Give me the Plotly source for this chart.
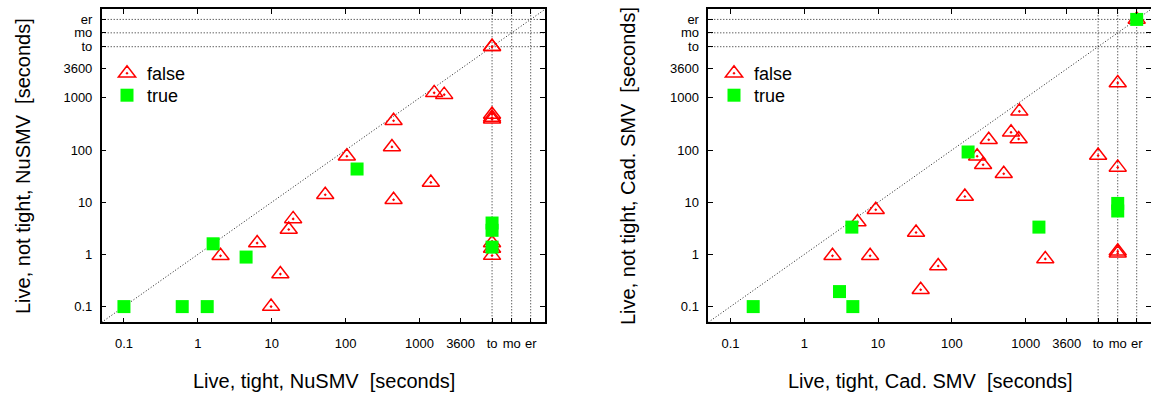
import plotly.graph_objects as go

W, H = 1151, 396

# special tick positions (timeout / memout / error)
TO, MO, ER = 9600, 17700, 32000
tick_vals = [0.1, 1, 10, 100, 1000, 3600, TO, MO, ER]
tick_text = ["0.1", "1", "10", "100", "1000", "3600", "to", "mo", "er"]
special_vals = [TO, MO, ER]
axis_min, axis_max = 0.05, 50000

# Left panel: NuSMV
nusmv_false_x = [TO, TO, 1580, 2160, 446, 424, 104, TO, TO, TO, 1425, 53, 446,
                 19.5, 17, 6.35, 2.03, 13.1, 9.8, TO, TO, TO]
nusmv_false_y = [TO, TO, 1250, 1157, 366, 115, 76, 480, 420, 390, 24, 13.9, 11.2,
                 4.8, 3.0, 1.65, 0.94, 0.42, 0.1, 1.65, 1.3, 0.95]
nusmv_true_x = [143, TO, TO, TO, 1.61, 4.5, 0.1, 0.615, 1.34]
nusmv_true_y = [43.4, 4.0, 2.9, 1.38, 1.6, 0.89, 0.1, 0.1, 0.1]

# Right panel: Cadence SMV
cad_false_x = [ER, MO, 822, 634, 804, 316, 220, 265, 505, TO, MO, 150, 9.3, 5.26,
               32.7, 2.41, 7.8, 65.3, 37.8, 1845, MO, MO]
cad_false_y = [ER, 1940, 553, 219, 163, 158, 76, 52.5, 35.2, 79, 46.6, 12.9, 7.2, 4.17,
               2.63, 0.94, 0.94, 0.60, 0.21, 0.82, 1.15, 1.05]
cad_true_x = [ER, 166, MO, MO, 4.41, 1514, 3.0, 4.55, 0.203]
cad_true_y = [ER, 92, 9.5, 6.8, 3.34, 3.34, 0.194, 0.1, 0.1]

x_titles = ["Live, tight, NuSMV \u00a0[seconds]", "Live, tight, Cad. SMV \u00a0[seconds]"]
y_titles = ["Live, not tight, NuSMV \u00a0[seconds]", "Live, not tight, Cad. SMV \u00a0[seconds]"]

FONT = "Liberation Sans, Arial, sans-serif"
RED = "#ff0000"
GREEN = "#00ff00"
DOT = "rgb(30,30,30)"

def px_x(p):
    return p / W

def px_y(p):
    return 1 - p / H

fig = go.Figure()

panels = [
    ("x", "y", "legend", "legend2", nusmv_false_x, nusmv_false_y, nusmv_true_x, nusmv_true_y),
    ("x2", "y2", "legend3", "legend4", cad_false_x, cad_false_y, cad_true_x, cad_true_y),
]

for xa, ya, lgf, lgt, fx, fy, tx, ty in panels:
    # reference dotted lines
    for v in special_vals:
        fig.add_trace(go.Scatter(x=[v, v], y=[axis_min, axis_max], mode="lines",
                                 line=dict(color=DOT, width=1, dash="1px,2px"),
                                 xaxis=xa, yaxis=ya, showlegend=False, hoverinfo="skip"))
        fig.add_trace(go.Scatter(x=[axis_min, axis_max], y=[v, v], mode="lines",
                                 line=dict(color=DOT, width=1, dash="1px,2px"),
                                 xaxis=xa, yaxis=ya, showlegend=False, hoverinfo="skip"))
    fig.add_trace(go.Scatter(x=[axis_min, axis_max], y=[axis_min, axis_max], mode="lines",
                             line=dict(color=DOT, width=1, dash="1px,2px"),
                             xaxis=xa, yaxis=ya, showlegend=False, hoverinfo="skip"))
    fig.add_trace(go.Scatter(x=fx, y=fy, mode="markers", name="false",
                             marker=dict(symbol="triangle-up-open-dot", size=15, color=RED,
                                         line=dict(color=RED, width=1.5)),
                             xaxis=xa, yaxis=ya, legend=lgf, cliponaxis=False))
    fig.add_trace(go.Scatter(x=tx, y=ty, mode="markers", name="true",
                             marker=dict(symbol="square", size=13, color=GREEN,
                                         line=dict(width=0)),
                             xaxis=xa, yaxis=ya, legend=lgt, cliponaxis=False))

rng = [-1.30103, 4.69897]
axis_common = dict(type="log", range=rng, tickmode="array", tickvals=tick_vals,
                   ticktext=tick_text, ticks="inside", ticklen=5, tickwidth=1,
                   tickcolor="black", showline=True, linecolor="black", linewidth=1.5,
                   mirror="ticks", showgrid=False, zeroline=False,
                   tickfont=dict(family=FONT, size=13, color="black"), automargin=False)

ydom = [px_y(322.3), px_y(9.3)]

def leg(xp, yp):
    return dict(x=px_x(xp), y=px_y(yp), xanchor="left", yanchor="top",
                bgcolor="rgba(0,0,0,0)", font=dict(family=FONT, size=18, color="black"))

fig.update_layout(
    width=W, height=H, margin=dict(l=0, r=0, t=0, b=0),
    paper_bgcolor="white", plot_bgcolor="white",
    xaxis=dict(domain=[px_x(101.7), px_x(545)], anchor="y", ticklabelstandoff=8, **axis_common),
    yaxis=dict(domain=ydom, anchor="x", ticklabelstandoff=5, **axis_common),
    xaxis2=dict(domain=[px_x(708.3), 1.0], anchor="y2", ticklabelstandoff=8, **axis_common),
    yaxis2=dict(domain=ydom, anchor="x2", ticklabelstandoff=5, **axis_common),
    legend=leg(107, 55),
    legend2=leg(107, 77),
    legend3=leg(714, 55),
    legend4=leg(714, 77),
    showlegend=True,
)

annos = []
for cx, t in zip([324, 930], x_titles):
    annos.append(dict(x=px_x(cx), y=px_y(381), xref="paper", yref="paper", text=t,
                      showarrow=False, xanchor="center", yanchor="middle",
                      font=dict(family=FONT, size=20, color="black")))
for cx, t in zip([23, 628], y_titles):
    annos.append(dict(x=px_x(cx), y=px_y(166), xref="paper", yref="paper", text=t,
                      showarrow=False, xanchor="center", yanchor="middle", textangle=-90,
                      font=dict(family=FONT, size=20, color="black")))
fig.update_layout(annotations=annos)

fig.write_html("out.html")
